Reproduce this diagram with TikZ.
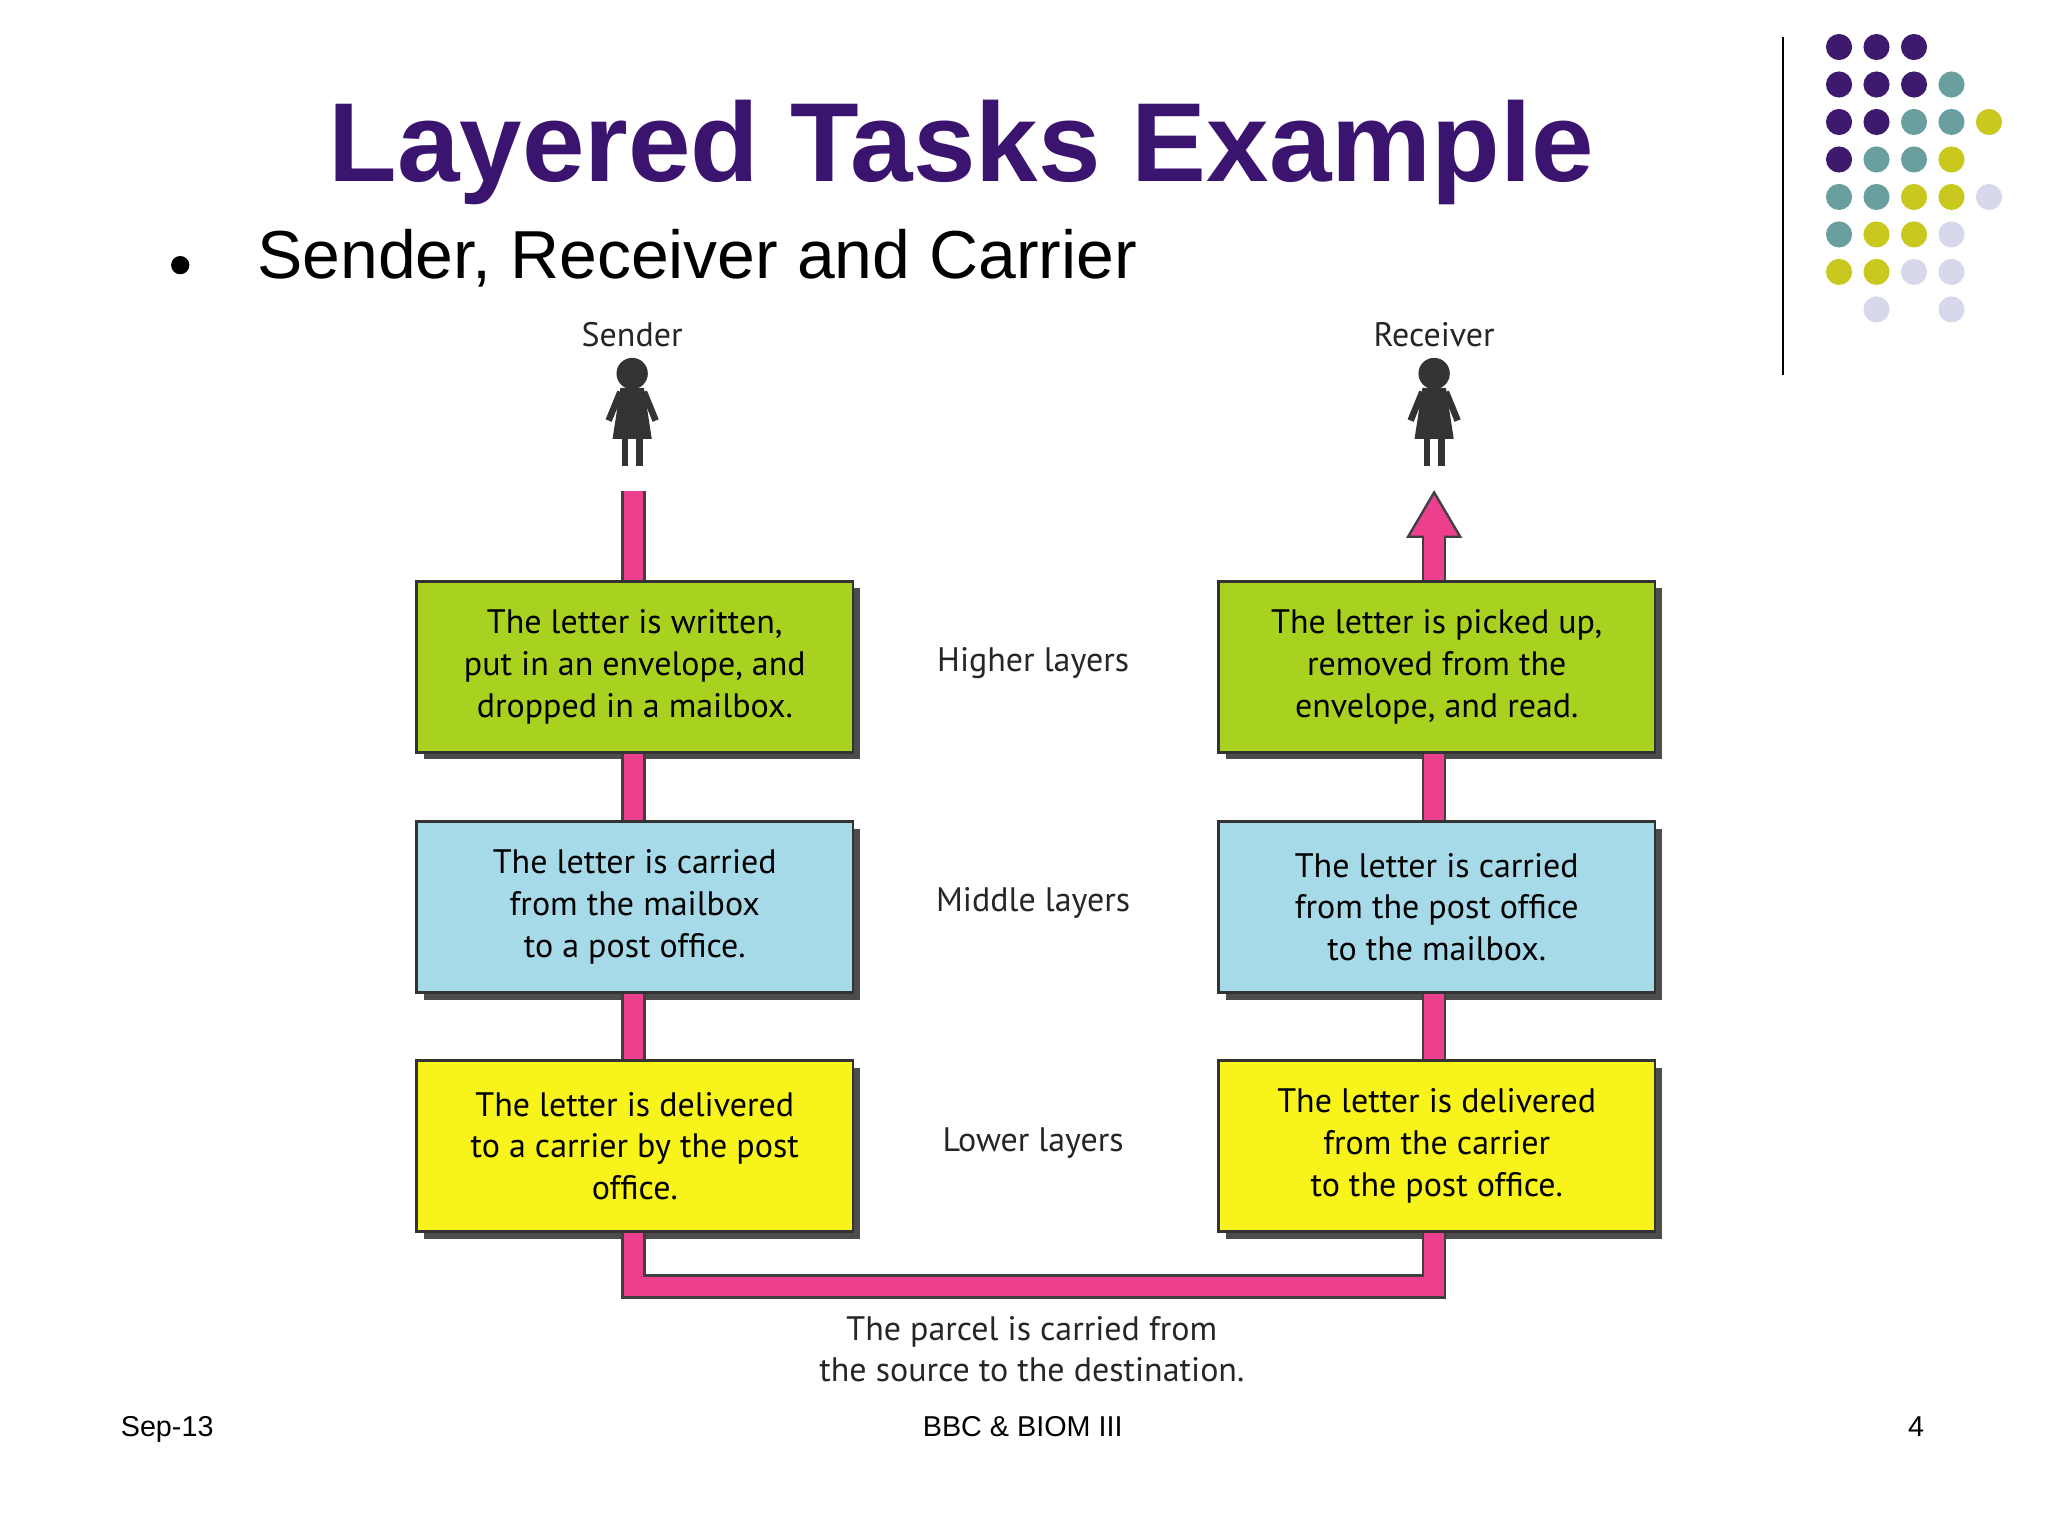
\documentclass[tikz,border=0pt]{standalone}
\usepackage{fontspec}
\setmainfont{Liberation Sans}
\newfontfamily\boxfont{PT Sans}
\begin{document}
\begin{tikzpicture}[x=0.5pt,y=-0.5pt,
  box/.style={draw=black!80,line width=1pt,minimum width=167pt,minimum height=65.5pt,anchor=north west,align=center,font=\boxfont\fontsize{13}{16}\selectfont},
  shadow/.style={fill=black!70,draw=none,minimum width=167pt,minimum height=65.5pt,anchor=north west},
  lbl/.style={font=\boxfont\fontsize{13}{16}\selectfont,align=center,text=black!85},
  foot/.style={font=\fontsize{11}{13}\selectfont,anchor=base},
  pipe/.style={draw=black!75,line width=0.9pt,double=pink1,double distance=7.5pt},
  dot/.style={circle,inner sep=0pt,minimum size=10pt}]
\definecolor{pink1}{HTML}{EC3F8E}
\definecolor{gbox}{HTML}{A8D21F}
\definecolor{bbox}{HTML}{A7DAE8}
\definecolor{ybox}{HTML}{F8F31A}
\definecolor{tpurple}{HTML}{3B1470}
\definecolor{dP}{HTML}{3D1A6E}
\definecolor{dT}{HTML}{6A9FA0}
\definecolor{dY}{HTML}{C8C81E}
\definecolor{dL}{HTML}{D8D8EC}
\useasboundingbox (0,0) rectangle (1568,1176);
\fill[white] (0,0) rectangle (1568,1176);
% title
\node[font=\bfseries\fontsize{43}{47}\selectfont,text=tpurple] (title) at (736,117) {Layered Tasks Example};
\node[circle,fill=black,inner sep=0pt,minimum size=7pt] (bul) at (138,203) {};
\node[anchor=west,font=\fontsize{26}{30}\selectfont] (sub) at (190,198) {Sender, Receiver and Carrier};
% vertical rule and dots
\draw[line width=1pt] (1365,28) -- (1365,287);
\foreach \c/\r/\col in {0/0/dP,1/0/dP,2/0/dP,
 0/1/dP,1/1/dP,2/1/dP,3/1/dT,
 0/2/dP,1/2/dP,2/2/dT,3/2/dT,4/2/dY,
 0/3/dP,1/3/dT,2/3/dT,3/3/dY,
 0/4/dT,1/4/dT,2/4/dY,3/4/dY,4/4/dL,
 0/5/dT,1/5/dY,2/5/dY,3/5/dL,
 0/6/dY,1/6/dY,2/6/dL,3/6/dL,
 1/7/dL,3/7/dL}
 \node[dot,fill=\col] (d\c\r) at ({1408+28.7*\c},{36+28.7*\r}) {};
% boxes
\foreach \n/\x/\y/\col/\t in {
 sh/318/444/gbox/{The letter is written,\\put in an envelope, and\\dropped in a mailbox.},
 sm/318/628/bbox/{The letter is carried\\from the mailbox\\to a post office.},
 sl/318/811/ybox/{The letter is delivered\\to a carrier by the post\\office.},
 rh/932/444/gbox/{The letter is picked up,\\removed from the\\envelope, and read.},
 rm/932/628/bbox/{The letter is carried\\from the post office\\to the mailbox.},
 rl/932/811/ybox/{The letter is delivered\\from the carrier\\to the post office.}}
{
 \node[shadow] (\n s) at (\x+6,\y+6) {};
 \node[box,fill=\col] (\n) at (\x,\y) {\t};
}
\node[lbl] (hl) at (791,508) {Higher layers};
\node[lbl] (ml) at (791,691) {Middle layers};
\node[lbl] (ll) at (791,875) {Lower layers};
\node[lbl] (snd) at (484,256) {Sender};
\node[lbl] (rcv) at (1098,256) {Receiver};
\node[lbl] (cap) at (790,1033) {The parcel is carried from\\the source to the destination.};
% pipes
\coordinate (stop) at (485,376);
\coordinate (rtop) at (1098,410);
\coordinate (bl) at (485,985);
\coordinate (br) at (1098,985);
\draw[pipe] (stop) -- (sh.north -| stop);
\draw[pipe] (sh.south -| stop) -- (sm.north -| stop);
\draw[pipe] (sm.south -| stop) -- (sl.north -| stop);
\draw[pipe] (sl.south -| stop) -- (bl) -- (br) -- (rl.south -| br);
\draw[pipe] (rl.north -| br) -- (rm.south -| br);
\draw[pipe] (rm.north -| br) -- (rh.south -| br);
\draw[pipe] (rh.north -| br) -- (rtop);
\fill[pink1,draw=black!75,line width=0.9pt] (1078,411) -- (1098,377) -- (1118,411) -- cycle;
\fill[pink1] (1090.5,408) rectangle (1105.5,416);
% persons
\foreach \px in {484,1098}{
 \fill[black!80] (\px,286) circle (6pt);
 \fill[black!80] (\px-9,297) -- (\px+9,297) -- (\px+15,336) -- (\px-15,336) -- cycle;
 \fill[black!80] (\px-8,335) rectangle (\px-3,357);
 \fill[black!80] (\px+3,335) rectangle (\px+8,357);
 \draw[black!80,line width=2.5pt] (\px-9,300) -- (\px-18,322);
 \draw[black!80,line width=2.5pt] (\px+9,300) -- (\px+18,322);
}
% footer
\node[foot] (f1) at (128,1100) {Sep-13};
\node[foot] (f2) at (783,1100) {BBC \& BIOM III};
\node[foot] (f3) at (1467,1100) {4};
\end{tikzpicture}
\end{document}
